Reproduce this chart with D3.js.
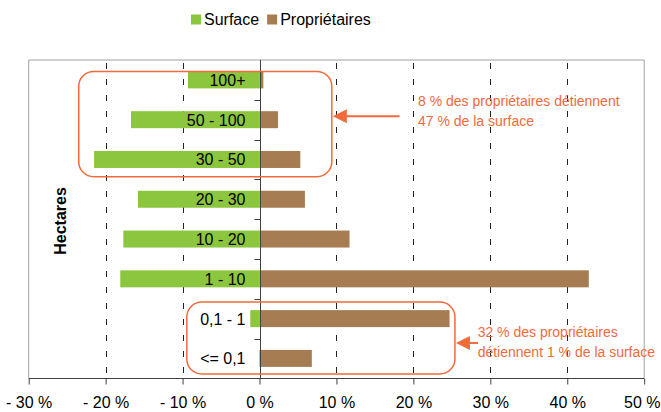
<!DOCTYPE html>
<html>
<head>
<meta charset="utf-8">
<script src="https://cdn.jsdelivr.net/npm/d3@7"></script>
<style>
  html, body { margin: 0; padding: 0; background: #fff; }
  svg { display: block; font-family: "Liberation Sans", Arial, sans-serif; }
</style>
</head>
<body>
<svg id="chart" width="661" height="412"></svg>
<script>
// ---- data ----
const categories = ["100+", "50 - 100", "30 - 50", "20 - 30", "10 - 20", "1 - 10", "0,1 - 1", "<= 0,1"];
const surface = [-9.3, -16.7, -21.5, -15.8, -17.7, -18.1, -1.2, 0];
const proprietaires = [0.5, 2.4, 5.3, 5.9, 11.7, 42.8, 24.7, 6.8];
const xTicks = [-30, -20, -10, 0, 10, 20, 30, 40, 50];
const xTickLabels = ["- 30 %", "- 20 %", "- 10 %", "0 %", "10 %", "20 %", "30 %", "40 %", "50 %"];
const seriesNames = ["Surface", "Propriétaires"];
const annotationTexts = [
  ["8 % des propriétaires détiennent", "47 % de la surface"],
  ["32 % des propriétaires", "détiennent 1 % de la surface"]
];

// ---- styling ----
const colors = { "Surface": "#8cc63f", "Propriétaires": "#a67c52" };
const orange = "#f26a3c";

const svg = d3.select("#chart");
const plot = { left: 28.7, right: 644.2, top: 60, bottom: 378.3 };

const x = d3.scaleLinear().domain([-30, 50]).range([plot.left, plot.right]);
const y = d3.scaleBand().domain(categories).range([plot.top, plot.bottom])
  .paddingInner(0.573).paddingOuter(0.2865);

// plot border (left, top, right)
svg.append("path")
  .attr("d", `M${plot.left},${plot.bottom} V${plot.top} H${plot.right} V${plot.bottom}`)
  .attr("fill", "none").attr("stroke", "#a0a0a0").attr("stroke-width", 1);

// dashed gridlines
svg.append("g").selectAll("line")
  .data(xTicks.filter(t => t !== 0 && t !== -30 && t !== 50))
  .join("line")
  .attr("x1", d => Math.round(x(d)) + 0.5).attr("x2", d => Math.round(x(d)) + 0.5)
  .attr("y1", plot.top).attr("y2", plot.bottom)
  .attr("stroke", "#222").attr("stroke-width", 1)
  .attr("stroke-dasharray", "6,10").attr("stroke-dashoffset", -3);

// bars
const rows = categories.map((c, i) => ({ c, s: surface[i], p: proprietaires[i] }));
svg.append("g").selectAll("rect.s").data(rows).join("rect")
  .attr("x", d => x(Math.min(0, d.s)))
  .attr("width", d => Math.abs(x(d.s) - x(0)))
  .attr("y", d => y(d.c)).attr("height", y.bandwidth())
  .attr("fill", colors["Surface"]);
svg.append("g").selectAll("rect.p").data(rows).join("rect")
  .attr("x", x(0))
  .attr("width", d => x(d.p) - x(0))
  .attr("y", d => y(d.c)).attr("height", y.bandwidth())
  .attr("fill", colors["Propriétaires"]);

// zero axis with category ticks
const x0 = Math.round(x(0)) + 0.5;
svg.append("line").attr("x1", x0).attr("x2", x0)
  .attr("y1", plot.top).attr("y2", plot.bottom)
  .attr("stroke", "#404040").attr("stroke-width", 1);
const step = y.step();
svg.append("g").selectAll("line")
  .data(d3.range(1, categories.length))
  .join("line")
  .attr("x1", x0 - 6).attr("x2", x0)
  .attr("y1", d => Math.round(plot.top + d * step) + 0.5)
  .attr("y2", d => Math.round(plot.top + d * step) + 0.5)
  .attr("stroke", "#404040");

// category labels inside
svg.append("g").selectAll("text").data(categories).join("text")
  .attr("x", x(0) - 14)
  .attr("y", d => y(d) + y.bandwidth() / 2 + 6)
  .attr("text-anchor", "end")
  .attr("font-size", 16).attr("fill", "#000")
  .text(d => d);

// bottom axis
const xAxis = d3.axisBottom(x).tickValues(xTicks).tickSize(6)
  .tickFormat((d, i) => xTickLabels[i]);
const ax = svg.append("g").attr("transform", `translate(0,${Math.round(plot.bottom) + 0.5})`).call(xAxis);
ax.select(".domain").attr("stroke", "#404040").attr("d", `M${plot.left},0H${plot.right}`);
ax.selectAll(".tick line").attr("stroke", "#404040");
ax.selectAll(".tick text").attr("font-size", 16).attr("fill", "#000")
  .attr("font-family", "Liberation Sans, Arial, sans-serif")
  .attr("y", 29).attr("dy", 0);
// keep the last label inside the page edge
ax.selectAll(".tick text").filter(d => d === 50)
  .attr("text-anchor", "end").attr("x", 660 - x(50));

// y title
svg.append("text")
  .attr("transform", `translate(66,221) rotate(-90)`)
  .attr("text-anchor", "middle")
  .attr("font-size", 16).attr("font-weight", "bold")
  .text("Hectares");

// legend
const legend = svg.append("g");
let lx = 191;
seriesNames.forEach(name => {
  legend.append("rect").attr("x", lx).attr("y", 14.5).attr("width", 10).attr("height", 10)
    .attr("fill", colors[name]);
  const t = legend.append("text").attr("x", lx + 13).attr("y", 25)
    .attr("font-size", 16).text(name);
  lx += 13 + t.node().getComputedTextLength() + 8;
});

// annotations
const annots = [
  { x1: -23.5, x2: 9.4, top: y(categories[0]), bottom: y(categories[2]) + y.bandwidth() + 8.7,
    arrowY: y(categories[1]) + y.bandwidth() / 2 - 3.5, arrowEnd: 18.2, textX: 20.6,
    lineY: [y(categories[1]) - 5, y(categories[1]) + 15], lines: annotationTexts[0] },
  { x1: -9.45, x2: 25.4, top: y(categories[6]) - 8, bottom: y(categories[7]) + y.bandwidth() + 7,
    arrowY: y(categories[6]) + step * 0.75 + 3, arrowEnd: 28.4, textX: 28.35,
    lineY: [y(categories[6]) + 27, y(categories[6]) + 46.5], lines: annotationTexts[1] }
];
const ag = svg.append("g");
annots.forEach(a => {
  ag.append("rect")
    .attr("x", x(a.x1)).attr("y", a.top)
    .attr("width", x(a.x2) - x(a.x1)).attr("height", a.bottom - a.top)
    .attr("rx", 15).attr("ry", 15)
    .attr("fill", "none").attr("stroke", orange).attr("stroke-width", 1.5);
  const tip = x(a.x2) + 1;
  ag.append("line").attr("x1", tip + 12).attr("x2", x(a.arrowEnd))
    .attr("y1", a.arrowY).attr("y2", a.arrowY)
    .attr("stroke", orange).attr("stroke-width", 2);
  ag.append("path")
    .attr("d", `M${tip},${a.arrowY} L${tip + 14},${a.arrowY - 7} L${tip + 14},${a.arrowY + 7} Z`)
    .attr("fill", orange);
  a.lines.forEach((ln, i) => {
    ag.append("text").attr("x", x(a.textX)).attr("y", a.lineY[i])
      .attr("font-size", 14).attr("fill", orange).text(ln);
  });
});
</script>
</body>
</html>
